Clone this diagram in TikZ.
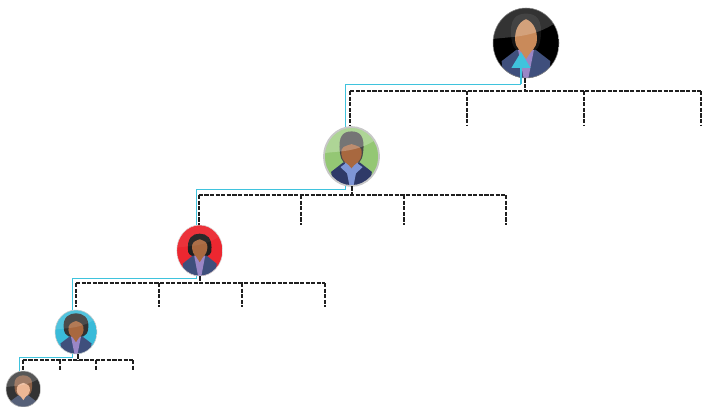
\documentclass[tikz,border=0pt]{standalone}
\usepackage{tikz}
\usetikzlibrary{arrows.meta,shapes.geometric}

\tikzset{
    avatar/.style={ellipse, inner sep=0pt},
    busline/.style={line width=1.45pt, color=black!88, dash pattern=on 3.2pt off 1pt},
    reportline/.style={line width=1.1pt, color=linecyan},
    reportarrow/.style={line width=1.8pt, color=linecyan, -{Triangle[length=12pt,width=14pt]}},
}
\definecolor{linecyan}{HTML}{3FC3DD}
\definecolor{suitblue}{HTML}{3F4F7C}
\definecolor{suitnavy}{HTML}{2F3A68}
\definecolor{shirtpurple}{HTML}{9A86C6}
\definecolor{shirtblue}{HTML}{7F96D6}
\definecolor{skintan}{HTML}{C98A5A}
\definecolor{skinbrown}{HTML}{A8683F}
\definecolor{skinpale}{HTML}{EDB795}
\definecolor{bggreen}{HTML}{94C774}
\definecolor{bgred}{HTML}{EC2730}
\definecolor{bgcyan}{HTML}{3ABBD9}
\definecolor{bodygrey}{HTML}{566078}
\definecolor{hairbrown}{HTML}{8A5F45}

% body and head in a unit circle, y pointing up
\newcommand{\suit}[3]{
    \fill[#1] (-0.66,-1.1) -- (-0.74,-0.52) -- (-0.3,-0.2) -- (0.3,-0.2) -- (0.74,-0.52) -- (0.66,-1.1) -- cycle;
    \fill[#2] (-0.24,-0.2) -- (0.24,-0.2) -- (0.05,-1.1) -- (-0.05,-1.1) -- cycle;
    \fill[#3] (-0.17,-0.1) -- (0.17,-0.1) -- (0.17,-0.22) -- (0,-0.46) -- (-0.17,-0.22) -- cycle;
}
\newcommand{\bobhair}[3]{
    \fill[#1] (-#2,#3-0.72) .. controls (-#2-0.08,#3-0.15) and (-0.3,#3) .. (0,#3)
        .. controls (0.3,#3) and (#2+0.08,#3-0.15) .. (#2,#3-0.72)
        .. controls (#2-0.05,-0.22) and (0.25,-0.25) .. (0,-0.25)
        .. controls (-0.25,-0.25) and (-#2+0.05,-0.22) .. (-#2,#3-0.72) -- cycle;
}
\newcommand{\face}[3]{
    \fill[#1] (0,#2) .. controls (#3*0.7,#2-0.08) and (#3*1.05,0.35) .. (#3,0.08)
        .. controls (#3*0.95,-0.15) and (#3*0.4,-0.3) .. (0,-0.3)
        .. controls (-#3*0.4,-0.3) and (-#3*0.95,-0.15) .. (-#3,0.08)
        .. controls (-#3*1.05,0.35) and (-#3*0.7,#2-0.08) .. (0,#2) -- cycle;
}
\newcommand{\gloss}[1]{
    \fill[white, opacity=#1] (-1.1,0.1) .. controls (-0.5,0.2) and (0.3,0.1) .. (1.1,0.72)
        -- (1.1,1.1) -- (-1.1,1.1) -- cycle;
}
\newcommand{\person}[7]{
    \node[avatar, minimum width=#3*1.5pt, minimum height=#4*1.5pt] (#1) at (#2) {};
    \begin{scope}[shift={(#2)}, x=#3*0.75pt, y=#4*0.75pt]
        \begin{scope}
            \clip (0,0) circle (1);
            \fill[#5] (-1,-1) rectangle (1,1);
            #7
        \end{scope}
        \draw[#6] (0,0) circle (1);
    \end{scope}
}

\begin{document}
\begin{tikzpicture}[x=0.75pt, y=-0.75pt]
    \useasboundingbox (0,0) rectangle (712,406);

    \person{head}{526,43}{33}{35}{black}{black!45, line width=0.4pt}{
        \bobhair{black!92}{0.44}{0.84}
        \suit{suitblue}{shirtpurple}{skintan}
        \face{skintan}{0.68}{0.33}
        \gloss{0.2}
    }
    \person{manager}{351.5,156.5}{27.5}{29.5}{bggreen}{black!22, line width=1.3pt}{
        \bobhair{black!72}{0.42}{0.85}
        \suit{suitnavy}{shirtblue}{skinbrown}
        \fill[shirtblue] (-0.4,-0.36) -- (-0.14,-0.18) -- (0.14,-0.18) -- (0.4,-0.36) -- (0,-0.72) -- cycle;
        \fill[skinbrown] (-0.15,-0.05) -- (0.15,-0.05) -- (0.15,-0.24) -- (0,-0.4) -- (-0.15,-0.24) -- cycle;
        \face{skinbrown}{0.42}{0.37}
        \gloss{0.25}
    }
    \person{lead}{199.7,250.5}{23}{25.5}{bgred}{black!15, line width=0.4pt}{
        \bobhair{black!88}{0.5}{0.66}
        \suit{suitblue}{shirtpurple}{skinbrown}
        \face{skinbrown}{0.44}{0.33}
        \gloss{0.05}
    }
    \person{senior}{76,332}{21}{22}{bgcyan}{black!20, line width=0.4pt}{
        \bobhair{black!80}{0.58}{0.85}
        \suit{suitblue}{shirtpurple}{skinbrown}
        \face{skinbrown}{0.5}{0.36}
        \gloss{0.12}
    }
    \person{junior}{23.3,389}{17.3}{18}{black!80}{black!25, line width=0.4pt}{
        \begin{scope}[shift={(0,-0.16)}]
            \bobhair{hairbrown}{0.5}{0.92}
            \suit{bodygrey}{bodygrey}{skinpale}
            \face{skinpale}{0.5}{0.38}
        \end{scope}
        \gloss{0.18}
    }

    % dotted buses
    \coordinate (headbus) at (525,91);
    \coordinate (managerbus) at (352,195);
    \coordinate (leadbus) at (200,283);
    \coordinate (seniorbus) at (77.7,360);
    \draw[busline] (headbus |- head.south) -- (headbus);
    \draw[busline] (managerbus |- manager.south) -- (managerbus);
    \draw[busline] (leadbus |- lead.south) -- (leadbus);
    \draw[busline] (seniorbus |- senior.south) -- (seniorbus);
    \foreach \x [count=\i] in {350,467,584,701} {
        \coordinate (headslot\i) at (\x,126);
        \draw[busline] (headslot\i |- headbus) -- (headslot\i);
    }
    \foreach \x [count=\i] in {198.7,300.7,404,506} {
        \coordinate (managerslot\i) at (\x,225);
        \draw[busline] (managerslot\i |- managerbus) -- (managerslot\i);
    }
    \foreach \x [count=\i] in {76,159,242,325} {
        \coordinate (leadslot\i) at (\x,307);
        \draw[busline] (leadslot\i |- leadbus) -- (leadslot\i);
    }
    \foreach \x [count=\i] in {22.7,60,96,132.7} {
        \coordinate (seniorslot\i) at (\x,370);
        \draw[busline] (seniorslot\i |- seniorbus) -- (seniorslot\i);
    }
    \draw[busline] (headslot1 |- headbus) -- (headslot4 |- headbus);
    \draw[busline] (managerslot1 |- managerbus) -- (managerslot4 |- managerbus);
    \draw[busline] (leadslot1 |- leadbus) -- (leadslot4 |- leadbus);
    \draw[busline] (seniorslot1 |- seniorbus) -- (seniorslot4 |- seniorbus);

    % cyan path up the chain
    \coordinate (headturn) at (521,84.3);
    \coordinate (headtip) at (521,52);
    \coordinate (managerturn) at (345.5,84.3);
    \coordinate (leadturn) at (196.7,189.3);
    \coordinate (seniorturn) at (72.3,278.3);
    \coordinate (juniorturn) at (19.3,357.3);
    \draw[reportline] (managerturn |- manager.north) -- (managerturn) -- (headturn);
    \draw[reportarrow] (headturn) -- (headtip);
    \draw[reportline] (managerturn |- manager.south) -- (managerturn |- leadturn) -- (leadturn) -- (leadturn |- lead.north);
    \draw[reportline] (leadturn |- lead.south) -- (leadturn |- seniorturn) -- (seniorturn) -- (seniorturn |- senior.north);
    \draw[reportline] (seniorturn |- senior.south) -- (seniorturn |- juniorturn) -- (juniorturn) -- (juniorturn |- junior.north);
\end{tikzpicture}
\end{document}
